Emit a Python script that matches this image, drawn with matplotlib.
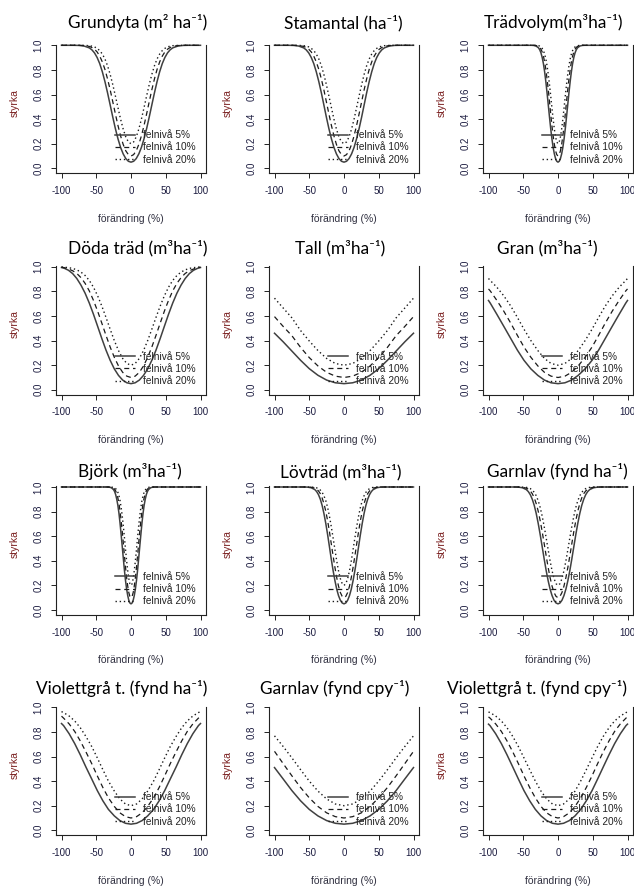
import matplotlib
matplotlib.use("Agg")
import matplotlib.pyplot as plt

plt.rcParams['font.family'] = ['Liberation Sans', 'DejaVu Sans']
plt.rcParams['axes.unicode_minus'] = False

# ---------------- data ----------------
titles = ["Grundyta (m² ha⁻¹)", "Stamantal (ha⁻¹)", "Trädvolym(m³ha⁻¹)",
          "Döda träd (m³ha⁻¹)", "Tall (m³ha⁻¹)", "Gran (m³ha⁻¹)",
          "Björk (m³ha⁻¹)", "Lövträd (m³ha⁻¹)", "Garnlav (fynd ha⁻¹)",
          "Violettgrå t. (fynd ha⁻¹)", "Garnlav (fynd cpy⁻¹)", "Violettgrå t. (fynd cpy⁻¹)"]
legend_labels = ["felnivå 5%", "felnivå 10%", "felnivå 20%"]
xtick_vals = [-100, -50, 0, 50, 100]
xtick_labels = ["-100", "-50", "0", "50", "100"]
ytick_vals = [0.0, 0.2, 0.4, 0.6, 0.8, 1.0]
ytick_labels = ["0.0", "0.2", "0.4", "0.6", "0.8", "1.0"]
xlabel_text = "förändring (%)"
ylabel_text = "styrka"

# Grundyta
grundyta_x = [-100, -82.5, -75, -67.5, -60, -56.25, -52.5, -48.75, -45, -41.25, -37.5, -33.75, -30, -26.25, -22.5, -18.75, -15, -11.25, -7.5, -3.75,
              0, 3.75, 7.5, 11.25, 15, 18.75, 22.5, 26.25, 30, 33.75, 37.5, 41.25, 45, 48.75, 52.5, 56.25, 60, 67.5, 75, 82.5, 100]
grundyta_5 = [1.0, 1.0, .999, .994, .979, .963, .938, .901, .851, .785, .705, .614, .516, .417, .323, .240, .170, .117, .079, .057,
              .05, .057, .079, .117, .170, .240, .323, .417, .516, .614, .705, .785, .851, .901, .938, .963, .979, .994, .999, 1.0, 1.0]
grundyta_10 = [1.0, 1.0, 1.0, .998, .991, .982, .968, .946, .912, .865, .804, .727, .639, .542, .443, .348, .264, .194, .142, .111,
               .10, .111, .142, .194, .264, .348, .443, .542, .639, .727, .804, .865, .912, .946, .968, .982, .991, .998, 1.0, 1.0, 1.0]
grundyta_20 = [1.0, 1.0, 1.0, .999, .997, .993, .987, .975, .957, .929, .889, .834, .764, .681, .589, .493, .400, .319, .255, .214,
               .20, .214, .255, .319, .400, .493, .589, .681, .764, .834, .889, .929, .957, .975, .987, .993, .997, .999, 1.0, 1.0, 1.0]

# Stamantal
stamantal_x = [-100, -79.75, -72.5, -65.25, -58, -54.4, -50.75, -47.1, -43.5, -39.9, -36.25, -32.6, -29, -25.4, -21.75, -18.1, -14.5, -10.9, -7.25, -3.6,
               0, 3.6, 7.25, 10.9, 14.5, 18.1, 21.75, 25.4, 29, 32.6, 36.25, 39.9, 43.5, 47.1, 50.75, 54.4, 58, 65.25, 72.5, 79.75, 100]
stamantal_5 = [1.0, 1.0, .999, .994, .979, .963, .938, .901, .851, .785, .705, .614, .516, .417, .323, .240, .170, .117, .079, .057,
               .05, .057, .079, .117, .170, .240, .323, .417, .516, .614, .705, .785, .851, .901, .938, .963, .979, .994, .999, 1.0, 1.0]
stamantal_10 = [1.0, 1.0, 1.0, .998, .991, .982, .968, .946, .912, .865, .804, .727, .639, .542, .443, .348, .264, .194, .142, .111,
                .10, .111, .142, .194, .264, .348, .443, .542, .639, .727, .804, .865, .912, .946, .968, .982, .991, .998, 1.0, 1.0, 1.0]
stamantal_20 = [1.0, 1.0, 1.0, .999, .997, .993, .987, .975, .957, .929, .889, .834, .764, .681, .589, .493, .400, .319, .255, .214,
                .20, .214, .255, .319, .400, .493, .589, .681, .764, .834, .889, .929, .957, .975, .987, .993, .997, .999, 1.0, 1.0, 1.0]

# Trädvolym
tradvolym_x = [-100, -38.5, -35, -31.5, -28, -26.25, -24.5, -22.75, -21, -19.25, -17.5, -15.75, -14, -12.25, -10.5, -8.75, -7, -5.25, -3.5, -1.75,
               0, 1.75, 3.5, 5.25, 7, 8.75, 10.5, 12.25, 14, 15.75, 17.5, 19.25, 21, 22.75, 24.5, 26.25, 28, 31.5, 35, 38.5, 100]
tradvolym_5 = [1.0, 1.0, .999, .994, .979, .963, .938, .901, .851, .785, .705, .614, .516, .417, .323, .240, .170, .117, .079, .057,
               .05, .057, .079, .117, .170, .240, .323, .417, .516, .614, .705, .785, .851, .901, .938, .963, .979, .994, .999, 1.0, 1.0]
tradvolym_10 = [1.0, 1.0, 1.0, .998, .991, .982, .968, .946, .912, .865, .804, .727, .639, .542, .443, .348, .264, .194, .142, .111,
                .10, .111, .142, .194, .264, .348, .443, .542, .639, .727, .804, .865, .912, .946, .968, .982, .991, .998, 1.0, 1.0, 1.0]
tradvolym_20 = [1.0, 1.0, 1.0, .999, .997, .993, .987, .975, .957, .929, .889, .834, .764, .681, .589, .493, .400, .319, .255, .214,
                .20, .214, .255, .319, .400, .493, .589, .681, .764, .834, .889, .929, .957, .975, .987, .993, .997, .999, 1.0, 1.0, 1.0]

# Döda träd
doda_x = [-100, -96, -90, -84, -78, -72, -66, -60, -54, -48, -42, -36, -30, -24, -18, -12, -6,
          0, 6, 12, 18, 24, 30, 36, 42, 48, 54, 60, 66, 72, 78, 84, 90, 96, 100]
doda_5 = [.994, .988, .972, .945, .905, .851, .785, .705, .614, .516, .417, .323, .240, .170, .117, .079, .057,
          .05, .057, .079, .117, .170, .240, .323, .417, .516, .614, .705, .785, .851, .905, .945, .972, .988, .994]
doda_10 = [.997, .993, .982, .968, .946, .912, .865, .804, .727, .639, .542, .443, .348, .264, .194, .142, .111,
           .10, .111, .142, .194, .264, .348, .443, .542, .639, .727, .804, .865, .912, .946, .968, .982, .993, .997]
doda_20 = [.999, .997, .993, .987, .975, .957, .929, .889, .834, .764, .681, .589, .493, .400, .319, .255, .214,
           .20, .214, .255, .319, .400, .493, .589, .681, .764, .834, .889, .929, .957, .975, .987, .993, .997, .999]

# Tall
tall_x = [-100, -87.5, -75, -62.5, -50, -37.5, -25, -12.5, 0, 12.5, 25, 37.5, 50, 62.5, 75, 87.5, 100]
tall_5 = [.46, .390, .315, .240, .172, .118, .079, .057, .05, .057, .079, .118, .172, .240, .315, .390, .46]
tall_10 = [.595, .515, .440, .345, .262, .194, .142, .111, .10, .111, .142, .194, .262, .345, .440, .515, .595]
tall_20 = [.745, .665, .585, .482, .397, .319, .255, .214, .20, .214, .255, .319, .397, .482, .585, .665, .745]

# Gran
gran_x = [-100, -97.5, -88, -78, -68, -58.5, -49, -39, -29, -19.5, -10,
          0, 10, 19.5, 29, 39, 49, 58.5, 68, 78, 88, 97.5, 100]
gran_5 = [.726, .705, .614, .516, .417, .323, .240, .170, .117, .079, .057,
          .05, .057, .079, .117, .170, .240, .323, .417, .516, .614, .705, .726]
gran_10 = [.82, .804, .727, .639, .542, .443, .348, .264, .194, .142, .111,
           .10, .111, .142, .194, .264, .348, .443, .542, .639, .727, .804, .82]
gran_20 = [.905, .889, .834, .764, .681, .589, .493, .400, .319, .255, .214,
           .20, .214, .255, .319, .400, .493, .589, .681, .764, .834, .889, .905]

# Björk
bjork_x = [-100, -34.65, -31.5, -28.35, -25.2, -23.6, -22.05, -20.5, -18.9, -17.3, -15.75, -14.2, -12.6, -11, -9.45, -7.9, -6.3, -4.7, -3.15, -1.6,
           0, 1.6, 3.15, 4.7, 6.3, 7.9, 9.45, 11, 12.6, 14.2, 15.75, 17.3, 18.9, 20.5, 22.05, 23.6, 25.2, 28.35, 31.5, 34.65, 100]
bjork_5 = [1.0, 1.0, .999, .994, .979, .963, .938, .901, .851, .785, .705, .614, .516, .417, .323, .240, .170, .117, .079, .057,
           .05, .057, .079, .117, .170, .240, .323, .417, .516, .614, .705, .785, .851, .901, .938, .963, .979, .994, .999, 1.0, 1.0]
bjork_10 = [1.0, 1.0, 1.0, .998, .991, .982, .968, .946, .912, .865, .804, .727, .639, .542, .443, .348, .264, .194, .142, .111,
            .10, .111, .142, .194, .264, .348, .443, .542, .639, .727, .804, .865, .912, .946, .968, .982, .991, .998, 1.0, 1.0, 1.0]
bjork_20 = [1.0, 1.0, 1.0, .999, .997, .993, .987, .975, .957, .929, .889, .834, .764, .681, .589, .493, .400, .319, .255, .214,
            .20, .214, .255, .319, .400, .493, .589, .681, .764, .834, .889, .929, .957, .975, .987, .993, .997, .999, 1.0, 1.0, 1.0]

# Lövträd
lovtrad_x = [-100, -57.75, -52.5, -47.25, -42, -39.4, -36.75, -34.1, -31.5, -28.9, -26.25, -23.6, -21, -18.4, -15.75, -13.1, -10.5, -7.9, -5.25, -2.6,
             0, 2.6, 5.25, 7.9, 10.5, 13.1, 15.75, 18.4, 21, 23.6, 26.25, 28.9, 31.5, 34.1, 36.75, 39.4, 42, 47.25, 52.5, 57.75, 100]
lovtrad_5 = [1.0, 1.0, .999, .994, .979, .963, .938, .901, .851, .785, .705, .614, .516, .417, .323, .240, .170, .117, .079, .057,
             .05, .057, .079, .117, .170, .240, .323, .417, .516, .614, .705, .785, .851, .901, .938, .963, .979, .994, .999, 1.0, 1.0]
lovtrad_10 = [1.0, 1.0, 1.0, .998, .991, .982, .968, .946, .912, .865, .804, .727, .639, .542, .443, .348, .264, .194, .142, .111,
              .10, .111, .142, .194, .264, .348, .443, .542, .639, .727, .804, .865, .912, .946, .968, .982, .991, .998, 1.0, 1.0, 1.0]
lovtrad_20 = [1.0, 1.0, 1.0, .999, .997, .993, .987, .975, .957, .929, .889, .834, .764, .681, .589, .493, .400, .319, .255, .214,
              .20, .214, .255, .319, .400, .493, .589, .681, .764, .834, .889, .929, .957, .975, .987, .993, .997, .999, 1.0, 1.0, 1.0]

# Garnlav (fynd ha-1)
garnlav_ha_x = [-100, -62.7, -57, -51.3, -45.6, -42.75, -39.9, -37.05, -34.2, -31.35, -28.5, -25.65, -22.8, -19.95, -17.1, -14.25, -11.4, -8.55, -5.7, -2.85,
                0, 2.85, 5.7, 8.55, 11.4, 14.25, 17.1, 19.95, 22.8, 25.65, 28.5, 31.35, 34.2, 37.05, 39.9, 42.75, 45.6, 51.3, 57, 62.7, 100]
garnlav_ha_5 = [1.0, 1.0, .999, .994, .979, .963, .938, .901, .851, .785, .705, .614, .516, .417, .323, .240, .170, .117, .079, .057,
                .05, .057, .079, .117, .170, .240, .323, .417, .516, .614, .705, .785, .851, .901, .938, .963, .979, .994, .999, 1.0, 1.0]
garnlav_ha_10 = [1.0, 1.0, 1.0, .998, .991, .982, .968, .946, .912, .865, .804, .727, .639, .542, .443, .348, .264, .194, .142, .111,
                 .10, .111, .142, .194, .264, .348, .443, .542, .639, .727, .804, .865, .912, .946, .968, .982, .991, .998, 1.0, 1.0, 1.0]
garnlav_ha_20 = [1.0, 1.0, 1.0, .999, .997, .993, .987, .975, .957, .929, .889, .834, .764, .681, .589, .493, .400, .319, .255, .214,
                 .20, .214, .255, .319, .400, .493, .589, .681, .764, .834, .889, .929, .957, .975, .987, .993, .997, .999, 1.0, 1.0, 1.0]

# Violettgrå t. (fynd ha-1)
viol_ha_x = [-100, -97, -89, -81, -73, -65, -56.5, -48.5, -40.5, -32.5, -24, -16, -8,
             0, 8, 16, 24, 32.5, 40.5, 48.5, 56.5, 65, 73, 81, 89, 97, 100]
viol_ha_5 = [.868, .851, .785, .705, .614, .516, .417, .323, .240, .170, .117, .079, .057,
             .05, .057, .079, .117, .170, .240, .323, .417, .516, .614, .705, .785, .851, .868]
viol_ha_10 = [.928, .912, .865, .804, .727, .639, .542, .443, .348, .264, .194, .142, .111,
              .10, .111, .142, .194, .264, .348, .443, .542, .639, .727, .804, .865, .912, .928]
viol_ha_20 = [.965, .957, .929, .889, .834, .764, .681, .589, .493, .400, .319, .255, .214,
              .20, .214, .255, .319, .400, .493, .589, .681, .764, .834, .889, .929, .957, .965]

# Garnlav (fynd cpy-1)
garnlav_cpy_x = [-100, -87.5, -75, -62.5, -50, -37.5, -25, -12.5, 0, 12.5, 25, 37.5, 50, 62.5, 75, 87.5, 100]
garnlav_cpy_5 = [.51, .417, .323, .240, .170, .117, .079, .057, .05, .057, .079, .117, .170, .240, .323, .417, .51]
garnlav_cpy_10 = [.642, .542, .443, .348, .264, .194, .142, .111, .10, .111, .142, .194, .264, .348, .443, .542, .642]
garnlav_cpy_20 = [.768, .681, .589, .493, .400, .319, .255, .214, .20, .214, .255, .319, .400, .493, .589, .681, .768]

# Violettgrå t. (fynd cpy-1)
viol_cpy_x = [-100, -97.8, -89.7, -81.5, -73.4, -65.2, -57, -49, -40.75, -32.6, -24.5, -16.3, -8,
              0, 8, 16.3, 24.5, 32.6, 40.75, 49, 57, 65.2, 73.4, 81.5, 89.7, 97.8, 100]
viol_cpy_5 = [.863, .851, .785, .705, .614, .516, .417, .323, .240, .170, .117, .079, .057,
              .05, .057, .079, .117, .170, .240, .323, .417, .516, .614, .705, .785, .851, .863]
viol_cpy_10 = [.922, .912, .865, .804, .727, .639, .542, .443, .348, .264, .194, .142, .111,
               .10, .111, .142, .194, .264, .348, .443, .542, .639, .727, .804, .865, .912, .922]
viol_cpy_20 = [.962, .957, .929, .889, .834, .764, .681, .589, .493, .400, .319, .255, .214,
               .20, .214, .255, .319, .400, .493, .589, .681, .764, .834, .889, .929, .957, .962]

panels = [
    (grundyta_x, grundyta_5, grundyta_10, grundyta_20),
    (stamantal_x, stamantal_5, stamantal_10, stamantal_20),
    (tradvolym_x, tradvolym_5, tradvolym_10, tradvolym_20),
    (doda_x, doda_5, doda_10, doda_20),
    (tall_x, tall_5, tall_10, tall_20),
    (gran_x, gran_5, gran_10, gran_20),
    (bjork_x, bjork_5, bjork_10, bjork_20),
    (lovtrad_x, lovtrad_5, lovtrad_10, lovtrad_20),
    (garnlav_ha_x, garnlav_ha_5, garnlav_ha_10, garnlav_ha_20),
    (viol_ha_x, viol_ha_5, viol_ha_10, viol_ha_20),
    (garnlav_cpy_x, garnlav_cpy_5, garnlav_cpy_10, garnlav_cpy_20),
    (viol_cpy_x, viol_cpy_5, viol_cpy_10, viol_cpy_20),
]

# ---------------- layout (pixels) ----------------
W, H = 634, 886
col_xm100 = [61.5, 274.5, 488.5]      # pixel of x = -100
row_y1 = [45.3, 266.8, 487.0, 707.3]  # pixel of y = 1.0
sx = 139.0 / 200.0
sy = 123.0
title_cx = [[138, 343, 554], [138, 340, 547], [130, 341, 557], [122, 335, 537]]
title_base = [28, 253, 477, 694]

fig = plt.figure(figsize=(W / 100, H / 100), dpi=100, facecolor='white')

styles = [dict(ls='-', color='#404040', lw=1.1),
          dict(ls=(0, (4, 3)), color='#1a1a1a', lw=0.9),
          dict(ls=(0, (1, 2)), color='#1a1a1a', lw=1.0)]
tick_col = '#1c1c40'

for i, (x, y5, y10, y20) in enumerate(panels):
    r, c = divmod(i, 3)
    left = col_xm100[c] - 8 * sx
    width = 216 * sx
    top = row_y1[r] - 0.04 * sy
    height = 1.08 * sy
    ax = fig.add_axes([left / W, 1 - (top + height) / H, width / W, height / H])
    handles = []
    for ys, st in zip([y5, y10, y20], styles):
        h, = ax.plot(x, ys, **st)
        handles.append(h)
    ax.set_xlim(-108, 108)
    ax.set_ylim(-0.04, 1.04)
    ax.spines['top'].set_visible(False)
    for s in ['left', 'right']:
        ax.spines[s].set_bounds(-0.04, 1.005)
    for s in ['left', 'right', 'bottom']:
        ax.spines[s].set_linewidth(0.8)
        ax.spines[s].set_color('#222222')
    ax.set_xticks(xtick_vals)
    ax.set_xticklabels(xtick_labels)
    ax.set_yticks(ytick_vals)
    ax.set_yticklabels(ytick_labels, rotation=90, va='center')
    ax.tick_params(direction='out', length=3.6, width=0.7, labelsize=7,
                   pad=5.5, colors='#222222', labelcolor=tick_col)
    ax.set_xlabel(xlabel_text, fontsize=7.5, color='#303040', va='center')
    ax.xaxis.set_label_coords(0.5, -45.5 / height)
    ax.set_ylabel(ylabel_text, fontsize=7.5, color='#7a1f1f', va='center')
    ax.yaxis.set_label_coords(-41 / width, 0.53)
    ax.legend(handles, legend_labels, loc='center left',
              bbox_to_anchor=((-23 + 108) / 216, (0.17 + 0.04) / 1.08),
              frameon=False, fontsize=7.3, handlelength=2.0, handletextpad=0.8,
              labelspacing=0.22, borderpad=0, borderaxespad=0,
              labelcolor='#222222')
    fig.text(title_cx[r][c] / W, 1 - title_base[r] / H, titles[i],
             ha='center', va='baseline', fontsize=12.4,
             family=['Lato', 'DejaVu Sans'], color='black')

fig.savefig('out.png', dpi=100, facecolor='white')
